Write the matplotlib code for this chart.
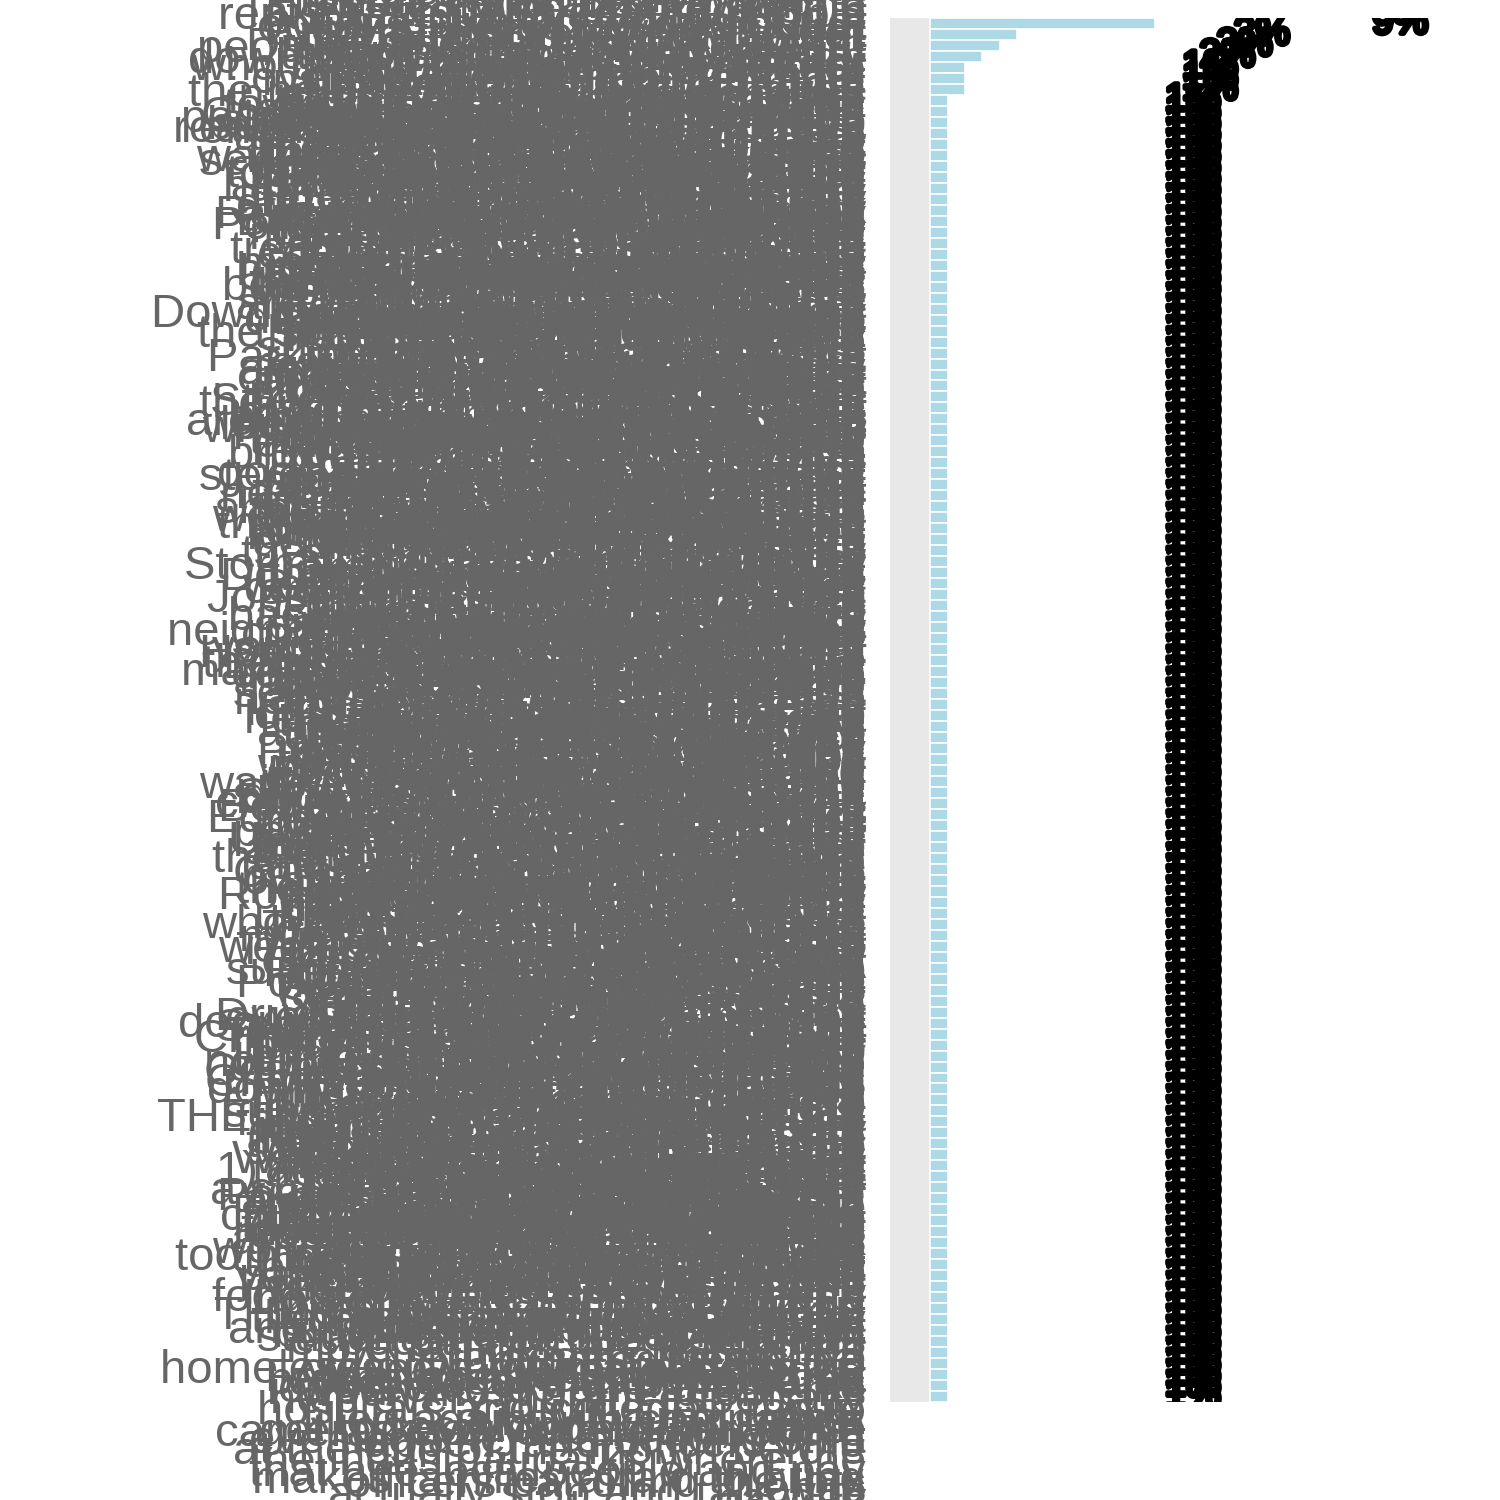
import textwrap
import matplotlib.pyplot as plt
import matplotlib.patheffects as pe

plt.rcParams['font.family'] = ['Liberation Sans', 'DejaVu Sans']

# survey answers (category) and how many people gave each one
antwoorden = [
    "Streets, sidewalks and roads that have been neglected for years and are now falling apart in almost every part of town, which makes driving and walking dangerous for everyone",
    "Lack of affordable housing for working families in the city, rents have doubled and people who grew up here can no longer afford to stay near their jobs or their parents",
    "Traffic congestion and the lack of good public transit options, the buses do not run often enough and the main roads are jammed every morning and every evening",
    "Crime, especially property crime and car break-ins at night, nobody seems to get arrested and people have stopped even reporting it to the police department",
    "Jobs and economic development for the whole region and its people, we need employers that pay a living wage and offer benefits so families can plan ahead",
    "Homelessness and the people living on the streets downtown, there are not enough shelter beds or mental health services and the problem keeps getting bigger",
    "Schools and the quality of public education for our kids, the buildings are old, the classes are too large and good teachers are leaving for other districts",
    "Fixing the potholes on almost every street in town this year instead of patching the same holes over and over again after every winter and every heavy rain",
    "Public safety in every part of the city, not just downtown, the neighborhoods on the edges of town hardly ever see a patrol car unless something bad happens",
    "Finding a way to keep young people from leaving the city after they finish school, there is not much for them to do here and the good jobs are elsewhere",
    "Taxes and fees keep going up every single year for residents while the services we get in return keep going down and nobody at city hall explains why",
    "housing prices are out of reach for most first time buyers and the new homes that are being built are all far too expensive for the people who work here",
    "Infrastructure like water lines and storm drains that are old and breaking, we have had several water main breaks on our street in just the last two years",
    "Drugs and the opioid problem in our community and schools, families are losing loved ones and there are not enough treatment programs or beds to help them",
    "Keeping the city clean, picking up litter and trash on roads and in the parks, the entrances to the city look terrible and give visitors a bad impression",
    "Mental health services for people who need them the most, the police end up responding to calls that should really be handled by trained counselors instead",
    "overcrowded schools and not enough teachers in classrooms, the portable classrooms have been there for ten years and the new subdivisions keep on coming",
    "Code enforcement for run down rental properties in the area, absentee landlords let houses fall apart and it drags down the value of the whole block",
    "too much growth without the roads and schools to support it, the city approves every new development but never plans for the traffic that comes with it",
    "Gangs and youth violence in some of the older neighborhoods, kids need mentors, jobs and safe places to go after school so they stay out of trouble",
    "more things for families to do together on the weekends, like festivals, concerts in the park, a better zoo and more playgrounds that are kept in good repair",
    "Lighting on the side streets is very poor at night time and many of the street lights have been out for months even after calling the city to report them",
    "Wasteful spending by city government and too many studies and consultants, we pay for plans that sit on a shelf while the basic services get neglected",
    "Safety of children walking to and from school every day, there are no crossing guards, the sidewalks end suddenly and the cars drive much too fast",
    "Senior services and transportation for the elderly residents who can no longer drive and have trouble getting to the doctor or the grocery store",
    "Stray animals and slow animal control response times, there are packs of loose dogs in our neighborhood and it is not safe for children to walk",
    "Rent is too high and wages are too low to keep up with it, people are working two jobs and still cannot afford a small apartment in a safe area",
    "Police response time when you call for help at night, it can take over an hour for an officer to show up and by then whoever was there is long gone",
    "Vacant lots and abandoned houses that attract crime and rodents, the city should tear them down or sell them to people who will fix them up",
    "Bike lanes and safer places to walk in the neighborhoods, connect the trails to each other and to the schools so people can get around without a car",
    "Flooding in low areas after every big storm that comes through, the drainage ditches are clogged and several streets turn into rivers every spring",
    "Better parks and more green space in the city for children and adults, the parks we have are run down and the equipment is broken or unsafe",
    "Trash pickup and recycling services are not dependable and the bulk pickup schedule keeps changing without any notice given to the residents",
    "Speeding and reckless driving on residential streets, we need speed bumps, more enforcement and better signs near the parks and the schools",
    "Water quality and the rising cost of all of the utilities, the water sometimes comes out brown and the bills keep going up every few months",
    "Downtown needs more shops and restaurants to bring people in at night and on the weekends, right now it is empty after five in the afternoon",
    "Noise from bars and traffic late at night on weekends, loud motorcycles and cars with stereos keep people awake and the police never do anything",
    "revitalizing the older neighborhoods near the downtown area instead of putting all of the money into the new developments out on the edge of town",
    "Panhandling at intersections and in the shopping centers, it makes people feel unsafe and many of them are not actually homeless or in real need",
    "Parking downtown is expensive and very hard to find, and the meters and the tickets drive shoppers away to the malls out by the highway",
    "Planning for growth and protecting the open space we have left, every field and forest is being turned into another shopping center or apartments",
    "making the city affordable for people on fixed incomes, retirees are being taxed out of the homes they have lived in and paid off for decades",
    "Poverty and the gap between the rich and the poor areas of the city, some neighborhoods get everything and others are completely forgotten",
    "Street repair and snow removal in the winter months, the side streets are never plowed and the main roads are covered in ice for days",
    "Transparency and accountability at city hall for spending, the budget should be easy to find and council meetings should be at times people can attend",
    "Public transportation that goes where people need to go, the routes have not changed in thirty years and do not reach the new job centers",
    "Libraries and community centers need to stay open longer in the evenings and on weekends so working families and students can use them",
    "Police officers need better pay and a lot more training, especially in dealing with mental illness and with the young people in the community",
    "Small businesses are struggling to stay open these days with high rents, high taxes and all of the competition from the big chains and online",
    "Traffic signals are not timed well on the main roads and you end up stopping at every single light even when there is no cross traffic at all",
    "Rebuilding trust between the police and the residents, especially in minority neighborhoods where people feel harassed instead of protected",
    "Graffiti and vandalism in the parks and public places, it should be cleaned up quickly and the people responsible should be made to pay for it",
    "Sidewalks are missing or broken in many of the areas, people in wheelchairs and parents with strollers have to walk in the street with the cars",
    "Recreation programs for kids after school and in summer that are free or low cost so that every child has somewhere safe and fun to go",
    "Job training for adults who want to find better work, partner with the community college and local employers to teach skills that are needed",
    "Not enough affordable places for young people to live, college graduates move away because they cannot find an apartment they can afford",
    "Emergency services and ambulance response in the county, it takes too long for help to arrive in the outer areas and the stations are understaffed",
    "property values and the condition of the neighborhoods, too many houses are being turned into rentals and nobody takes care of the yards",
    "Storm water drainage and sewer backups into basements every time there is a heavy rain, and the city says it is not their responsibility",
    "Domestic violence and support for victims and children, there is only one shelter and it is always full so women have nowhere to go",
    "Racism and fair treatment for all of the residents here, city leaders need to reflect the community and listen to every part of it",
    "Jobs that pay enough money to support a whole family without needing public assistance, too many jobs are part time with no benefits",
    "and the city needs to listen to the people who live here instead of the developers and the big businesses that fund the campaigns",
    "Street cleaning and the maintenance of the medians and the right of ways, weeds are waist high and the trash collects along the curbs",
    "Health care access for low income residents and seniors, the clinics are far away, the waits are long and many people have no insurance",
    "Road construction that never seems to end on main streets, projects take years, the detours are confusing and the businesses suffer",
    "Homeless shelters and services for people who are in need, including veterans, families with children and people with mental illness",
    "Lack of grocery stores in some of the neighborhoods, people without cars have to take two buses just to buy fresh fruit and vegetables",
    "Theft and burglaries in residential areas of the city, packages get stolen off porches and cars are broken into right in the driveways",
    "Public restrooms and cleanliness in the parks and trails, the restrooms are usually locked or filthy and the trash cans are overflowing",
    "and schools that prepare the students for good jobs later, bring back the trade programs and the vocational classes for those who want them",
    "Too many apartments being built too fast in the suburbs without the roads, schools, parks or water system to handle all of the new people",
    "help for the homeless and the people with an addiction, we need more treatment centers and housing first programs instead of more arrests",
    "Utility rates keep going up while service gets worse, the power goes out in every storm and it takes days before it is turned back on",
    "Cost of living and the price of everyday things we need, food, gas, rent and insurance have all gone up but the paychecks have not",
    "Pedestrian safety at the busy crossings near the schools and the bus stops, several people have been hit by cars in just the last year",
    "Youth programs to keep the kids out of trouble at night and during the summer, there used to be a youth center but it closed years ago",
    "Economic opportunity on the east side of the city which has been ignored for decades while all of the investment goes to the west side",
    "Fire protection and response times in the newer areas of town, the nearest station is miles away and the city keeps growing outwards",
    "Shootings and gun violence in our neighborhoods lately, we hear gunshots almost every weekend and people are afraid to sit on their porches",
    "Better communication between the city and neighborhoods, we never find out about road closures, meetings or new projects until too late",
    "Education and more funding for all of the public schools, teachers buy their own supplies and the textbooks are more than ten years old",
    "citizens feeling safe in their own homes and on the street, older people are afraid to go out after dark even in the better neighborhoods",
    "Unemployment and the lack of good jobs for young adults without a college degree, the factories closed and nothing has replaced them",
    "Cleaning up the river and the lake for future generations, the water is polluted, the fish are not safe to eat and the beaches are closed",
    "Zoning and the type of development allowed near homes, gas stations, warehouses and bars keep getting approved right next to houses",
    "Crime and safety for everyone who lives and works here, more officers on foot and on bikes who actually get to know the neighborhoods",
    "CRIME IN ALL PARTS OF THE CITY AND DRUGS BEING SOLD OPENLY IN THE NEIGHBORHOODS AND NEAR THE SCHOOLS",
    "Roads and bridges need repair before someone gets hurt, several bridges have weight limits now and the overpasses are crumbling",
    "Affordable housing for the people who work in the city, teachers, nurses, police officers and firefighters cannot afford to live here",
    "Drug dealing near the parks and the schools in town, everyone knows which houses are the problem but nothing ever seems to be done",
    "Trees and landscaping along the streets and boulevards, the old trees are being cut down and nothing is planted to replace them",
    "CITIZENS SHOULD HAVE A VOICE IN THE DECISIONS THAT ARE MADE ABOUT THEIR OWN NEIGHBORHOODS",
    "Traffic on the highway and the main roads at rush hour, it takes forty five minutes to drive ten miles and the accidents keep increasing",
    "Housing that regular working people can actually afford, not luxury condos and not more subsidized projects crowded in one area",
    "Homeless people sleeping in doorways downtown at night and in the parks during the day, the businesses and the customers are leaving",
    "Police need to be more visible in the neighborhoods, not just writing speeding tickets on the highway but walking and talking to people",
    "Jobs with benefits and a future for the young people of this city, so they do not have to move to another state to build a career",
    "Condition of the roads and bridges across the whole city, our tires and our cars are being ruined and the repairs cost us a fortune",
    "Drugs being sold openly on the corners in some areas and the crime and the violence that always comes along with the drug trade",
    "Schools that are safe and have the resources they need, including counselors, nurses, security and up to date computers for the students",
    "Crime in the neighborhoods and downtown after dark, people no longer go out to eat or to see a show because they are afraid to walk",
    "Taxes that are too high for the services that we get, the sales tax and the property tax are both among the highest in the state",
    "Homelessness and the camps along the river and the trails, the trash and the needles make the trails unusable for families and kids",
    "Cost of housing keeps going up faster than the paychecks and the property taxes go up right along with it every single year",
    "Crime and drugs and the gangs that come with them, the city needs a real plan and real resources instead of just more talk about it",
    "Infrastructure that can handle the growth we are seeing, the water plant, the sewer system and the roads are all at full capacity",
    "Public safety and keeping the police and fire departments well staffed, they are working too much overtime and many are quitting",
    "Cost of living for young families and for the retirees, child care alone costs as much as the rent and there is not enough of it",
    "Traffic and roads that cannot handle all of the cars, build the bypass that was promised years ago and widen the main streets",
    "Parks that are clean and safe for the families to use, with lighting, security and restrooms that are open and kept clean",
    "Education and after school programs for the children of working parents who cannot be home until six or seven in the evening",
    "Water and sewer systems that are old and need replacing before they fail, the pipes in the older areas are over one hundred years old",
    "1) Affordable housing 2) Roads 3) Crime and safety 4) Jobs and the economy 5) Better schools for the kids in every neighborhood",
    "Growth that is planned and does not ruin the character of the city, protect the historic buildings and the small town feel we love and the parks",
    "#1 Affordable housing for everyone who lives in the city, #2 fixing the roads, #3 doing something about the homeless downtown and near the river",
    "Safety in the streets and in the homes of the residents, more patrols, more lighting and more neighborhood watch programs so that people can get to know each other again",
    "EDUCATION AND JOBS FOR THE YOUNG PEOPLE SO THEY HAVE A FUTURE HERE AND DO NOT TURN TO CRIME OR LEAVE",
    "ANY CHANGE THAT MAKES THE CITY SAFER AND CLEANER FOR THE FAMILIES WHO LIVE HERE AND WORK HERE",
    "Transportation options for people who do not drive, the disabled, the elderly and the students need buses that run on weekends and late in the evening after the second shift ends",
    "Poverty and hunger among the children and the elderly, the food banks are running out and more families are asking for help every month, especially at the end of the month before payday",
    "Public transit that runs on time and runs more often, with shelters at the stops and routes that go to the hospitals and colleges and to the industrial parks where the new jobs are located",
    "Economy and bringing more businesses and jobs to town, the empty storefronts and the closed factories need to be filled again with companies that hire local people and pay them fairly",
    "Property crime and car thefts in the parking lots of the stores and the apartment complexes, there should be cameras everywhere and more officers patrolling the lots at night and on weekends",
    "and more police on the streets in the neighborhoods at night, especially on the weekends when most of the problems happen, and officers who actually stop and talk with the people who live there",
    "homeless people and panhandlers downtown and in the parks, along with the litter and the drug use that goes along with it, which makes families afraid to bring their children to the events downtown",
]
aantallen = [13, 5, 4, 3, 2, 2, 2] + [1] * (len(antwoorden) - 7)

totaal = sum(aantallen)
percentages = [f"{a / totaal * 100:.0f}%" for a in aantallen]
# capitals are wider, so wrap them shorter
labels = [textwrap.fill(t, 23 if t.isupper() else 30) for t in antwoorden]

fig = plt.figure(figsize=(15, 15), dpi=100)
ax = fig.add_axes([0.593, 0.0653, 0.396, 0.9227])

ypos = range(len(aantallen))
ax.barh(ypos, aantallen, height=1.0, color='lightblue', edgecolor='white', linewidth=1.2)
ax.set_xlim(-2.37, 32)
ax.set_ylim(len(aantallen) - 0.5, -0.5)
ax.axvspan(-2.37, 0, color='#e8e8e8', zorder=0)

for y, (a, p) in enumerate(zip(aantallen, percentages)):
    ax.text(a + 12.55, y, p, fontsize=28, color='black', va='center', ha='left', clip_on=True,
            path_effects=[pe.withStroke(linewidth=3.5, foreground='black')])

ax.set_yticks(list(ypos))
ax.set_yticklabels(labels, fontsize=34, color='#666666')
ax.tick_params(axis='y', length=0, pad=17)
ax.set_xticks([])
for s in ax.spines.values():
    s.set_visible(False)

fig.savefig('out.png', dpi=100)
